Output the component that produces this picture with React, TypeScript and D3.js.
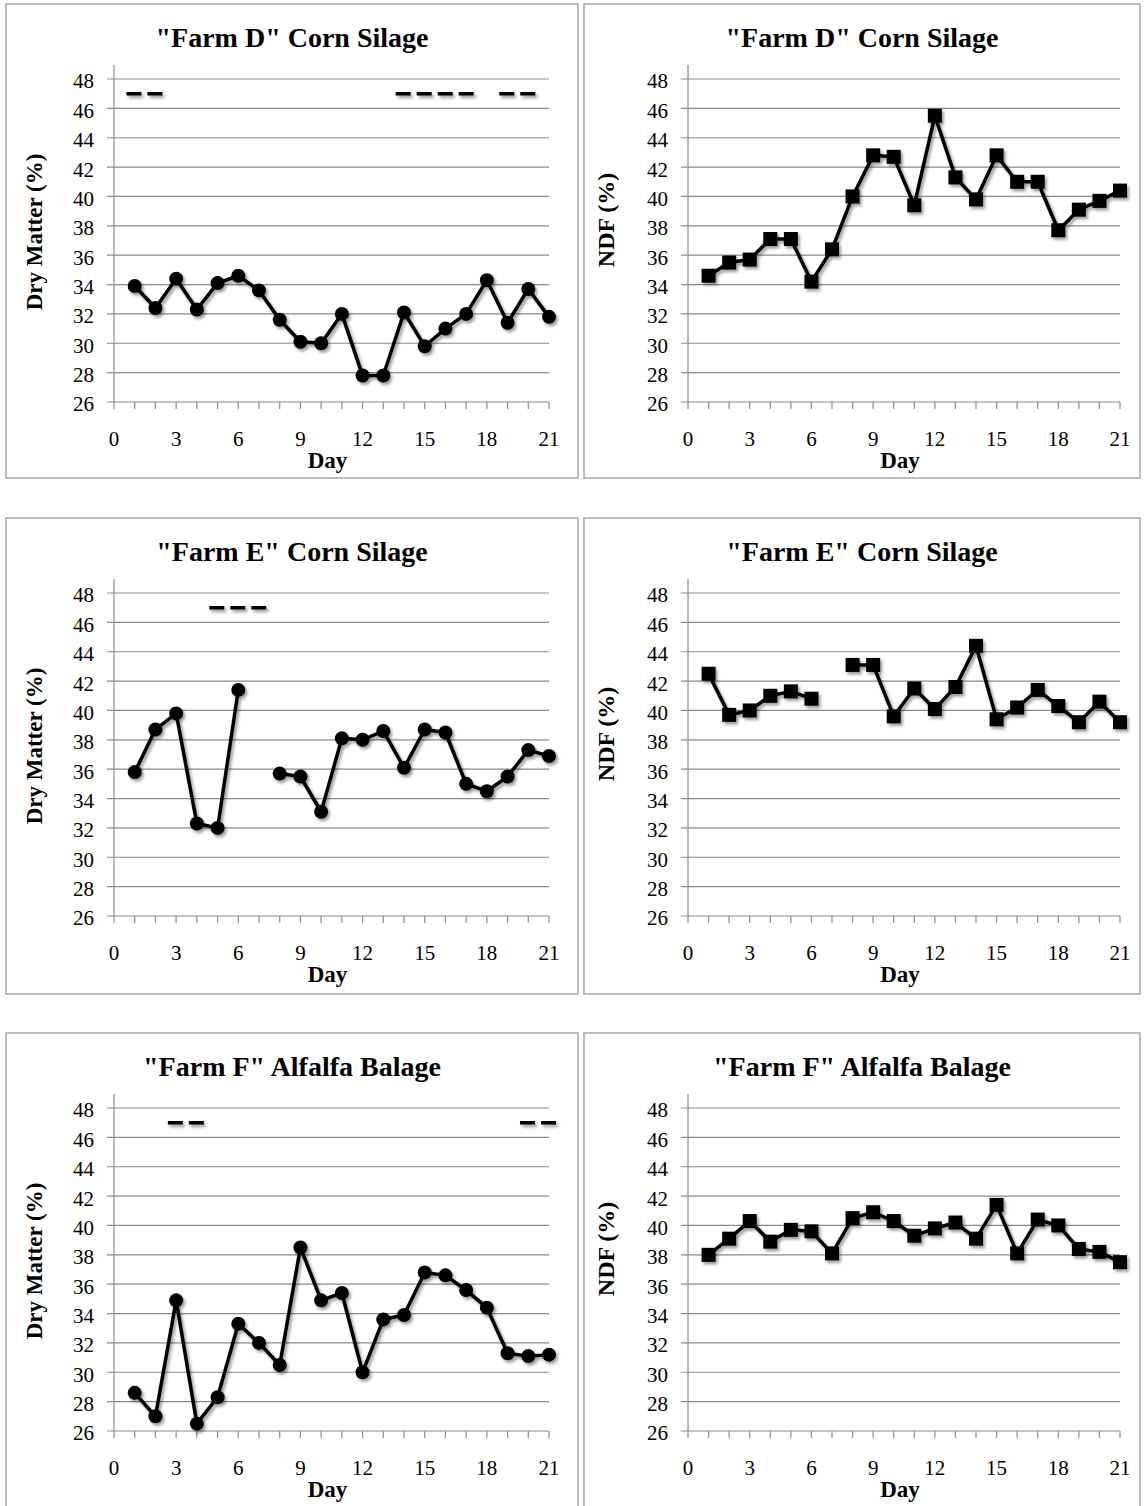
import React, { useRef, useEffect } from 'react';
import * as d3 from 'd3';

// Day numbers (x categories) and axis ticks
const DAYS = [1, 2, 3, 4, 5, 6, 7, 8, 9, 10, 11, 12, 13, 14, 15, 16, 17, 18, 19, 20, 21];
const X_TICKS = [0, 3, 6, 9, 12, 15, 18, 21];
const X_MINOR = [0, 1, 2, 3, 4, 5, 6, 7, 8, 9, 10, 11, 12, 13, 14, 15, 16, 17, 18, 19, 20, 21];
const Y_TICKS = [26, 28, 30, 32, 34, 36, 38, 40, 42, 44, 46, 48];

// Series values (null = missing sample)
const FARM_D_DM = [33.9, 32.4, 34.4, 32.3, 34.1, 34.6, 33.6, 31.6, 30.1, 30.0, 32.0, 27.8, 27.8, 32.1, 29.8, 31.0, 32.0, 34.3, 31.4, 33.7, 31.8];
const FARM_D_NDF = [34.6, 35.5, 35.7, 37.1, 37.1, 34.2, 36.4, 40.0, 42.8, 42.7, 39.4, 45.5, 41.3, 39.8, 42.8, 41.0, 41.0, 37.7, 39.1, 39.7, 40.4];
const FARM_E_DM = [35.8, 38.7, 39.8, 32.3, 32.0, 41.4, null, 35.7, 35.5, 33.1, 38.1, 38.0, 38.6, 36.1, 38.7, 38.5, 35.0, 34.5, 35.5, 37.3, 36.9];
const FARM_E_NDF = [42.5, 39.7, 40.0, 41.0, 41.3, 40.8, null, 43.1, 43.1, 39.6, 41.5, 40.1, 41.6, 44.4, 39.4, 40.2, 41.4, 40.3, 39.2, 40.6, 39.2];
const FARM_F_DM = [28.6, 27.0, 34.9, 26.5, 28.3, 33.3, 32.0, 30.5, 38.5, 34.9, 35.4, 30.0, 33.6, 33.9, 36.8, 36.6, 35.6, 34.4, 31.3, 31.1, 31.2];
const FARM_F_NDF = [38.0, 39.1, 40.3, 38.9, 39.7, 39.6, 38.1, 40.5, 40.9, 40.3, 39.3, 39.8, 40.2, 39.1, 41.4, 38.1, 40.4, 40.0, 38.4, 38.2, 37.5];

// Dashed marker bars at the top of the dry matter charts: [fromDay, toDay]
const FARM_D_DASHES = [[0.6, 2.4], [13.6, 17.4], [18.6, 20.4]];
const FARM_E_DASHES = [[4.6, 7.4]];
const FARM_F_DASHES = [[2.6, 4.4], [19.6, 21.4]];
const DASH_LEVEL = 47;

const TITLES = ['"Farm D" Corn Silage', '"Farm E" Corn Silage', '"Farm F" Alfalfa Balage'];

type Panel = {
  row: number;
  col: number;
  title: string;
  yLabel: string;
  values: (number | null)[];
  marker: 'circle' | 'square';
  dashes: number[][];
};

const PANELS: Panel[] = [
  { row: 0, col: 0, title: TITLES[0], yLabel: 'Dry Matter (%)', values: FARM_D_DM, marker: 'circle', dashes: FARM_D_DASHES },
  { row: 0, col: 1, title: TITLES[0], yLabel: 'NDF (%)', values: FARM_D_NDF, marker: 'square', dashes: [] },
  { row: 1, col: 0, title: TITLES[1], yLabel: 'Dry Matter (%)', values: FARM_E_DM, marker: 'circle', dashes: FARM_E_DASHES },
  { row: 1, col: 1, title: TITLES[1], yLabel: 'NDF (%)', values: FARM_E_NDF, marker: 'square', dashes: [] },
  { row: 2, col: 0, title: TITLES[2], yLabel: 'Dry Matter (%)', values: FARM_F_DM, marker: 'circle', dashes: FARM_F_DASHES },
  { row: 2, col: 1, title: TITLES[2], yLabel: 'NDF (%)', values: FARM_F_NDF, marker: 'square', dashes: [] },
];

// Layout
const COLS = [
  { boxX: 6, boxW: 572, plotLeft: 114, plotRight: 549, yLabelX: 34, yLabelDy: 228, yLabelSize: 23 },
  { boxX: 584, boxW: 556, plotLeft: 688, plotRight: 1120, yLabelX: 606, yLabelDy: 216, yLabelSize: 24 },
];
const ROWS = [
  { boxY: 4, boxH: 474 },
  { boxY: 518, boxH: 476 },
  { boxY: 1033, boxH: 480 },
];

const FONT = '"Liberation Serif", "Times New Roman", serif';
const GRID = '#8a8a8a';

export default function App() {
  const svgRef = useRef<SVGSVGElement>(null);

  useEffect(() => {
    const svg = d3.select(svgRef.current);
    svg.selectAll('*').remove();

    const defs = svg.append('defs');
    const filter = defs.append('filter')
      .attr('id', 'shadow')
      .attr('x', '-20%').attr('y', '-20%')
      .attr('width', '140%').attr('height', '140%');
    filter.append('feDropShadow')
      .attr('dx', 2).attr('dy', 2.5)
      .attr('stdDeviation', 1.6)
      .attr('flood-color', '#000')
      .attr('flood-opacity', 0.4);

    svg.append('rect')
      .attr('width', 1146).attr('height', 1506)
      .attr('fill', '#fff');

    PANELS.forEach(p => {
      const c = COLS[p.col];
      const r = ROWS[p.row];
      const top = r.boxY + 75;
      const bottom = r.boxY + 398;

      const x = d3.scaleLinear().domain([0, 21]).range([c.plotLeft, c.plotRight]);
      const y = d3.scaleLinear().domain([26, 48]).range([bottom, top]);

      const g = svg.append('g');

      // panel border
      g.append('rect')
        .attr('x', c.boxX).attr('y', r.boxY)
        .attr('width', c.boxW).attr('height', r.boxH)
        .attr('fill', 'none')
        .attr('stroke', '#a6a6a6')
        .attr('stroke-width', 1.5);

      // title
      g.append('text')
        .attr('x', c.boxX + c.boxW / 2)
        .attr('y', r.boxY + 43)
        .attr('text-anchor', 'middle')
        .style('font-family', FONT)
        .style('font-weight', 'bold')
        .style('font-size', '28px')
        .text(p.title);

      // gridlines
      g.selectAll('.grid')
        .data(Y_TICKS)
        .enter()
        .append('line')
        .attr('x1', c.plotLeft - 7).attr('x2', c.plotRight)
        .attr('y1', d => y(d)).attr('y2', d => y(d))
        .attr('stroke', GRID)
        .attr('stroke-width', 1.2);

      // y axis line
      g.append('line')
        .attr('x1', c.plotLeft).attr('x2', c.plotLeft)
        .attr('y1', top - 14).attr('y2', bottom)
        .attr('stroke', GRID)
        .attr('stroke-width', 1.2);

      // x axis ticks
      g.selectAll('.xtick')
        .data(X_MINOR)
        .enter()
        .append('line')
        .attr('x1', d => x(d)).attr('x2', d => x(d))
        .attr('y1', bottom).attr('y2', bottom + 7)
        .attr('stroke', GRID)
        .attr('stroke-width', 1.2);

      // y tick labels
      g.selectAll('.ylab')
        .data(Y_TICKS)
        .enter()
        .append('text')
        .attr('x', c.plotLeft - 20)
        .attr('y', d => y(d))
        .attr('dy', '0.45em')
        .attr('text-anchor', 'end')
        .style('font-family', FONT)
        .style('font-size', '21px')
        .text(d => d);

      // x tick labels
      g.selectAll('.xlab')
        .data(X_TICKS)
        .enter()
        .append('text')
        .attr('x', d => x(d))
        .attr('y', bottom + 44)
        .attr('text-anchor', 'middle')
        .style('font-family', FONT)
        .style('font-size', '21px')
        .text(d => d);

      // axis titles
      g.append('text')
        .attr('x', (c.plotLeft + c.plotRight) / 2 - 4)
        .attr('y', bottom + 66)
        .attr('text-anchor', 'middle')
        .style('font-family', FONT)
        .style('font-weight', 'bold')
        .style('font-size', '23px')
        .text('Day');

      g.append('text')
        .attr('transform', `translate(${c.yLabelX}, ${r.boxY + c.yLabelDy}) rotate(-90)`)
        .attr('dy', '0.35em')
        .attr('text-anchor', 'middle')
        .style('font-family', FONT)
        .style('font-weight', 'bold')
        .style('font-size', `${c.yLabelSize}px`)
        .text(p.yLabel);

      const marks = g.append('g').attr('filter', 'url(#shadow)');

      // dashed significance bars
      marks.selectAll('.dash')
        .data(p.dashes)
        .enter()
        .append('line')
        .attr('x1', d => x(d[0])).attr('x2', d => x(d[1]))
        .attr('y1', y(DASH_LEVEL)).attr('y2', y(DASH_LEVEL))
        .attr('stroke', '#000')
        .attr('stroke-width', 3.5)
        .attr('stroke-dasharray', '15 6');

      const points = DAYS.map((d, i) => ({ day: d, value: p.values[i] }));

      const line = d3.line<{ day: number; value: number | null }>()
        .defined(d => d.value != null)
        .x(d => x(d.day))
        .y(d => y(d.value as number));

      marks.append('path')
        .datum(points)
        .attr('d', line)
        .attr('fill', 'none')
        .attr('stroke', '#000')
        .attr('stroke-width', 3.5)
        .attr('stroke-linejoin', 'round');

      const valid = points.filter(d => d.value != null);
      if (p.marker === 'circle') {
        marks.selectAll('.pt')
          .data(valid)
          .enter()
          .append('circle')
          .attr('cx', d => x(d.day))
          .attr('cy', d => y(d.value as number))
          .attr('r', 7)
          .attr('fill', '#000');
      } else {
        marks.selectAll('.pt')
          .data(valid)
          .enter()
          .append('rect')
          .attr('x', d => x(d.day) - 7)
          .attr('y', d => y(d.value as number) - 7)
          .attr('width', 14)
          .attr('height', 14)
          .attr('fill', '#000');
      }
    });
  }, []);

  return (
    <svg
      ref={svgRef}
      width={1146}
      height={1506}
      style={{ position: 'absolute', left: 0, top: 0 }}
    />
  );
}
